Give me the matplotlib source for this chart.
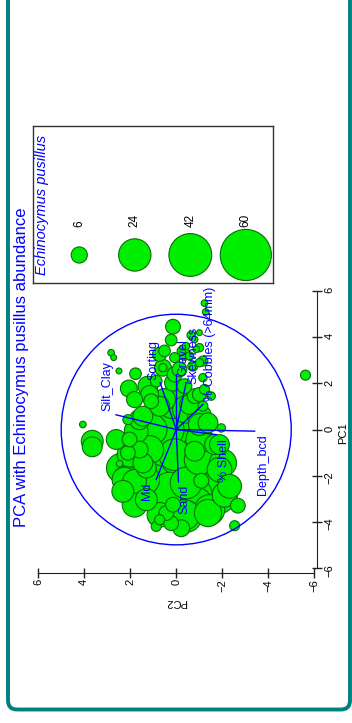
"""PCA biplot of sediment variables with Echinocymus pusillus abundance as bubbles (drawn rotated)"""

import numpy as np
import matplotlib
matplotlib.use("Agg")
import matplotlib.pyplot as plt
from matplotlib.patches import Circle, FancyBboxPatch

plt.rcParams['font.family'] = ['Liberation Sans', 'DejaVu Sans']

# site scores on the first two components
PC1 = [2.36, 0.22, 3.33, 3.12, 2.54, -4.17, 0.07, 5.48, 5.10, 4.46,
       3.88, 4.09, 3.62, 3.41, 3.41, 3.12, 3.19, 3.48, 2.90, 2.75,
       2.68, 2.68, 2.61, 2.25, 1.74, 1.45, 2.42, 1.78, 1.88, 2.10,
       2.03, 1.88, 1.45, 1.01, 4.20, 3.91, 2.97, 3.55, 1.23, 1.01,
       0.58, 1.16, 0.87, 0.58, 0.29, -0.07, 0.00, 0.00, -0.29, -0.43,
       0.43, -0.43, -0.43, -0.51, -0.75, -0.87, -1.45, -0.80, -1.16, -0.94,
       -0.65, -1.45, -1.67, -1.48, -1.01, -2.17, -2.25, -2.68, -1.67, -3.04,
       -2.03, -2.32, -2.32, -2.22, -2.75, -2.46, -3.30, -3.19, -3.26, -3.62,
       -3.91, -4.06, -3.77, -3.62, -3.19, -4.20, -4.28, -0.94,
       1.30, 1.09, 1.52, 0.43, 0.22, -0.65, -1.09, -0.87, -1.09, -1.30,
       -1.74, -2.17, -2.17, -2.61, -2.83, -2.83, -3.26, -3.70, -3.70, -3.48,
       2.39, 3.26, 3.26, 1.52, 1.30]
PC2 = [-5.62, 4.06, 2.83, 2.72, 2.49, -2.54, -1.96, -1.23, -1.28, 0.14,
       0.22, -0.65, -0.43, -0.22, 0.51, 0.07, -0.58, -0.87, -1.01, -0.72,
       0.58, 0.58, -0.14, -1.16, -1.23, -1.52, 1.77, 2.06, 1.23, 0.87,
       0.14, -0.36, -0.80, -1.16, -1.01, -0.80, -1.16, -1.01, 1.09, 0.72,
       1.45, 0.14, -0.43, -1.01, -1.38, 1.74, 1.09, 0.43, -0.43, -1.01,
       2.10, 2.03, 2.61, 3.65, 3.65, 1.59, 1.45, 0.58, -0.14, -1.01,
       -1.88, -2.03, 2.39, 2.46, 2.10, 2.17, 1.81, 2.32, 1.30, 1.30,
       0.29, -0.43, -1.16, -1.09, -1.74, -2.32, -2.68, 0.43, 0.14, 0.43,
       0.72, 0.22, -0.43, -1.38, -0.87, 0.87, -0.22, -0.80,
       0.51, -0.58, 1.16, 1.60, -1.01, -1.67, 2.03, 1.16, 0.07, -1.01,
       -1.88, 2.25, 1.38, 0.29, -0.80, -2.10, 1.81, 0.73, -0.36, -1.45,
       0.07, -0.36, 0.73, -1.01, 1.81]
# Echinocymus pusillus counts per site
ABUNDANCE = [2.3, 1.0, 1.0, 0.8, 0.8, 2.3, 1.6, 1.0, 1.0, 5.0,
             3.1, 1.6, 1.2, 1.6, 3.1, 2.3, 1.6, 1.0, 1.6, 2.3,
             6.5, 1.6, 5.0, 1.6, 2.3, 1.6, 3.1, 6.5, 9.0, 3.1,
             6.5, 5.0, 5.0, 2.3, 0.8, 1.0, 2.3, 1.6, 5.0, 9.0,
             9.0, 23.0, 17.0, 13.0, 9.0, 13.0, 23.0, 29.0, 35.0, 17.0,
             2.3, 5.0, 9.0, 11.0, 9.0, 6.5, 9.0, 29.0, 35.0, 29.0,
             9.0, 17.0, 20.0, 1.0, 5.0, 17.0, 13.0, 11.0, 9.0, 11.0,
             42.0, 23.0, 50.0, 5.0, 42.0, 13.0, 5.0, 35.0, 5.0, 5.0,
             2.3, 5.0, 23.0, 17.0, 23.0, 2.3, 6.5, 9.0,
             11.0, 9.0, 7.4, 9.2, 11.0, 9.2, 14.0, 18.0, 23.0, 21.0,
             14.0, 14.0, 21.0, 28.0, 28.0, 14.0, 14.0, 14.0, 21.0, 21.0,
             5.2, 3.3, 4.5, 4.5, 5.9]

# environmental variable loadings
VARIABLES = ["Silt_Clay", "Sorting", "Gravel", "Skewness", "% Cobbles (>64mm)",
             "Depth_bcd", "% Shell", "Sand", "Md"]
LOAD_PC1 = [0.64, 2.03, 2.39, 2.03, 1.09, -0.07, -0.22, -2.27, -2.17]
LOAD_PC2 = [2.62, 0.70, 0.00, -0.43, -1.16, -3.41, -1.74, -0.10, 0.87]

LEGEND_VALUES = [6, 24, 42, 60]
TICKS = [-6, -4, -2, 0, 2, 4, 6]
CIRCLE_RADIUS = 5

# where each variable name sits relative to the arrow tip (pc1, pc2)
LABEL_SHIFT = [(0.16, 0.35), (0.14, 0.29), (-0.07, -0.33), (-0.07, -0.31), (0.14, -0.29),
               (-0.15, -0.36), (-0.21, -0.35), (-0.12, -0.26), (-0.15, 0.39)]

BLUE = "#0000ff"
FILL = "#00ee00"
EDGE = "#0a6e0a"
SIZE_SCALE = 22.6  # points^2 per individual

fig = plt.figure(figsize=(3.52, 7.23), dpi=100)

# teal frame round the panel
frame = FancyBboxPatch((0.08, 0.135), 3.42, 7.6, boxstyle="round,pad=0,rounding_size=0.09",
                       transform=fig.dpi_scale_trans, fill=False, ec="#00807f", lw=2.8)
fig.patches.append(frame)

# whole plot is turned a quarter: PC2 runs along x (reversed), PC1 up the page
ax = fig.add_axes([0.05625, 0.2075, 0.8443, 0.4191])
ax.set_xlim(6.8, -6.12)
ax.set_ylim(-6.22, 6.92)
ax.set_facecolor("none")

order = np.argsort(ABUNDANCE, kind="stable")[::-1]
pc1 = np.asarray(PC1)[order]
pc2 = np.asarray(PC2)[order]
ab = np.asarray(ABUNDANCE)[order]
ax.scatter(pc2, pc1, s=ab * SIZE_SCALE, c=FILL, edgecolors=EDGE, linewidths=0.8,
           clip_on=False, zorder=2)

ax.add_patch(Circle((0, 0), CIRCLE_RADIUS, fill=False, ec=BLUE, lw=1.0, clip_on=False, zorder=3))

for name, l1, l2, (d1, d2) in zip(VARIABLES, LOAD_PC1, LOAD_PC2, LABEL_SHIFT):
    ax.plot([0, l2], [0, l1], color=BLUE, lw=1.0, zorder=4, clip_on=False)
    ax.text(l2 + d2, l1 + d1, name, color=BLUE, fontsize=9, rotation=90,
            rotation_mode="anchor", ha="left" if l1 > 0 else "right", va="center", zorder=5)

for side in ["top", "left"]:
    ax.spines[side].set_visible(False)
for side in ["bottom", "right"]:
    ax.spines[side].set_bounds(-6, 6)
    ax.spines[side].set_color("#222222")
ax.yaxis.tick_right()
ax.set_xticks(TICKS)
ax.set_yticks(TICKS)
ax.tick_params(axis="both", direction="inout", length=6.5, width=1, colors="#222222",
               labelsize=8, labelcolor="black", labelrotation=90)
ax.tick_params(axis="x", pad=1)
ax.tick_params(axis="y", pad=2)

fig.text(0.974, 0.401, "PC1", rotation=90, fontsize=8, ha="center", va="center")
fig.text(0.5, 0.167, "PC2", rotation=180, fontsize=8, ha="center", va="center")
fig.text(0.0625, 0.4917, "PCA with Echinocymus pusillus abundance", rotation=90,
         fontsize=12, color=BLUE, ha="center", va="center")

# size key
lax = fig.add_axes([0.0929, 0.6086, 0.6818, 0.2176])
lax.set_xlim(0, 1)
lax.set_ylim(0, 1)
lax.set_xticks([])
lax.set_yticks([])
for sp in lax.spines.values():
    sp.set_color("#333333")
    sp.set_linewidth(1.0)
key_x = np.linspace(0.194, 0.888, len(LEGEND_VALUES))
lax.scatter(key_x, [0.178] * len(LEGEND_VALUES), s=np.asarray(LEGEND_VALUES) * SIZE_SCALE,
            c=FILL, edgecolors=EDGE, linewidths=0.8, clip_on=False)
for x, val in zip(key_x, LEGEND_VALUES):
    lax.text(x, 0.359, str(val), rotation=90, rotation_mode="anchor", ha="left",
             va="center", fontsize=8.5)
lax.text(0.0375, 0.051, "Echinocymus pusillus", rotation=90, rotation_mode="anchor",
         ha="left", va="center", fontsize=10.5, style="italic", color=BLUE)

fig.savefig("out.png", dpi=100)
